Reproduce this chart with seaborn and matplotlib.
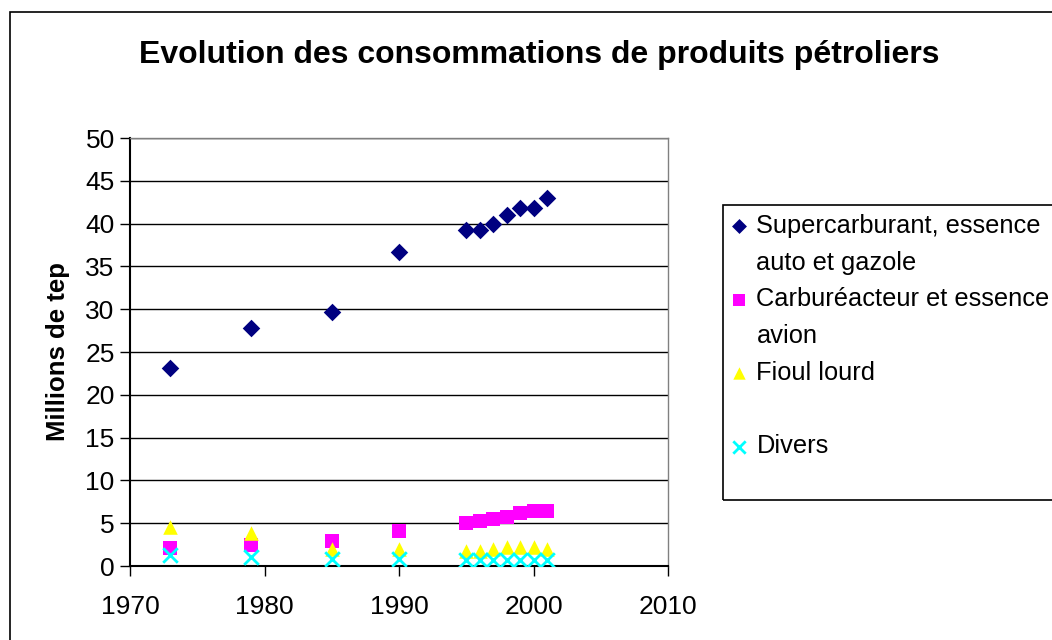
import matplotlib
matplotlib.use('Agg')
import pandas as pd
import seaborn as sns
from matplotlib import pyplot as plt
from matplotlib.lines import Line2D
from matplotlib.patches import Rectangle


annees = [1973, 1979, 1985, 1990, 1995, 1996, 1997, 1998, 1999, 2000, 2001]
supercarburant = [23.1, 27.8, 29.7, 36.7, 39.3, 39.3, 40.0, 41.0, 41.8, 41.8, 43.0]
carbureacteur = [2.1, 2.5, 2.9, 4.1, 5.0, 5.2, 5.5, 5.7, 6.2, 6.4, 6.4]
fioul_lourd = [4.6, 3.8, 1.95, 2.0, 1.8, 1.75, 2.0, 2.2, 2.2, 2.2, 2.0]
divers = [1.3, 1.1, 0.8, 0.8, 0.7, 0.7, 0.7, 0.7, 0.7, 0.7, 0.7]

series = [
    ('Supercarburant, essence\nauto et gazole', supercarburant, '#000080', 'D', 80),
    ('Carburéacteur et essence\navion', carbureacteur, '#FF00FF', 's', 90),
    ('Fioul lourd', fioul_lourd, '#FFFF00', '^', 110),
    ('Divers', divers, '#00FFFF', 'x', 110),
]

sns.set_style('white')
plt.rcParams['font.family'] = ['Liberation Sans', 'DejaVu Sans']
plt.rcParams['text.color'] = 'black'
plt.rcParams['xtick.color'] = 'black'
plt.rcParams['ytick.color'] = 'black'
plt.rcParams['axes.labelcolor'] = 'black'

fig = plt.figure(figsize=(10.52, 6.4), dpi=100)
ax = fig.add_axes([130 / 1052, 74 / 640, 538 / 1052, 428 / 640])

for label, vals, color, marker, size in series:
    df = pd.DataFrame({'annee': annees, 'valeur': vals})
    if marker == 'x':
        sns.scatterplot(data=df, x='annee', y='valeur', ax=ax, color=color,
                        marker=marker, s=size, linewidth=2, label=label, zorder=3)
    else:
        sns.scatterplot(data=df, x='annee', y='valeur', ax=ax, color=color,
                        marker=marker, s=size, linewidth=0, label=label, zorder=3)

ax.set_xlim(1970, 2010)
ax.set_ylim(0, 50)
ax.set_xticks(range(1970, 2011, 10))
ax.set_yticks(range(0, 51, 5))
ax.yaxis.grid(True, color='black', linewidth=1)
ax.xaxis.grid(False)
ax.tick_params(axis='both', which='major', direction='out', length=7, width=1,
               color='black', labelsize=19, bottom=True, left=True)
ax.tick_params(axis='x', pad=14)
ax.tick_params(axis='y', pad=4)
for side in ['left', 'bottom']:
    ax.spines[side].set_color('black')
    ax.spines[side].set_linewidth(1.5)
for side in ['right', 'top']:
    ax.spines[side].set_color('#808080')
    ax.spines[side].set_linewidth(1)
ax.set_xlabel('')
ax.set_ylabel('Millions de tep', fontsize=18.5, fontweight='bold', labelpad=11)

fig.text(539 / 1052, 1 - 55 / 640, 'Evolution des consommations de produits pétroliers',
         ha='center', va='center', fontsize=23, fontweight='bold')

# outer chart border
fig.patches.append(Rectangle((10 / 1052, -0.05), 1.1, 1.05 - 12 / 640,
                             transform=fig.transFigure, fill=False,
                             edgecolor='black', linewidth=1.2))
# legend box
fig.patches.append(Rectangle((723 / 1052, 140 / 640), 0.5, 295 / 640,
                             transform=fig.transFigure, fill=False,
                             edgecolor='black', linewidth=1.2))

handles, labels = ax.get_legend_handles_labels()
ax.get_legend().remove()
blank = Line2D([], [], linestyle='none', marker=None)
new_handles, new_labels = [], []
for h, l in zip(handles, labels):
    parts = l.split('\n')
    new_handles.append(h)
    new_labels.append(parts[0])
    if len(parts) > 1:
        new_handles.append(blank)
        new_labels.append(parts[1])
    elif l == 'Fioul lourd':
        new_handles.append(blank)
        new_labels.append(' ')
fig.legend(new_handles, new_labels, loc='upper left',
           bbox_to_anchor=(731 / 1052, 1 - 214 / 640), bbox_transform=fig.transFigure,
           frameon=False, fontsize=18.3, handlelength=0.6, handletextpad=0.4,
           labelspacing=0.5, borderaxespad=0, borderpad=0, markerscale=0.85)

fig.savefig('out.png', dpi=100)
